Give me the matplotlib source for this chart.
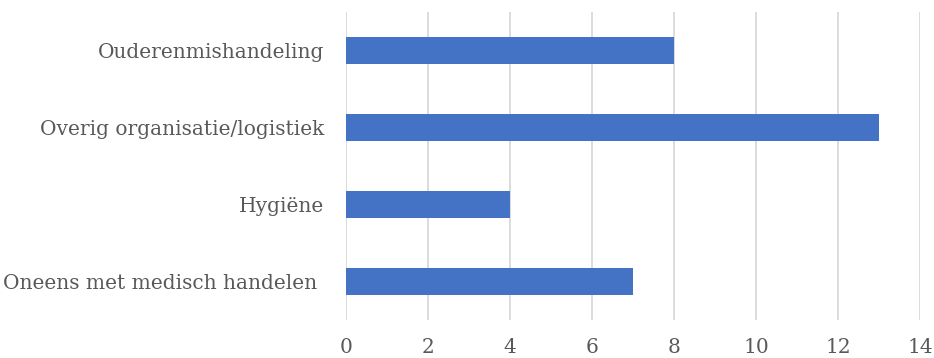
import matplotlib.pyplot as plt

categorieen = ["Oneens met medisch handelen ", "Hygiëne", "Overig organisatie/logistiek", "Ouderenmishandeling"]
aantallen = [7, 4, 13, 8]
xticks = [0, 2, 4, 6, 8, 10, 12, 14]

plt.rcParams['font.family'] = ['DejaVu Serif']
grijs = "#595959"

fig = plt.figure(figsize=(9.34, 3.58), dpi=100)
ax = fig.add_axes([346/934, 1 - 320/358, 574/934, 308/358])

ax.barh(categorieen, aantallen, height=0.35, color="#4472C4", zorder=3)
ax.set_xlim(0, 14)
ax.set_ylim(-0.5, 3.5)
ax.set_xticks(xticks)
ax.grid(axis="x", color="#D9D9D9", linewidth=1.3, zorder=0)
for s in ["top", "right", "bottom", "left"]:
    ax.spines[s].set_visible(False)
ax.tick_params(axis="both", length=0, labelsize=14.5, labelcolor=grijs)
ax.tick_params(axis="x", pad=13)
ax.tick_params(axis="y", pad=16)

fig.savefig("out.png", dpi=100)
